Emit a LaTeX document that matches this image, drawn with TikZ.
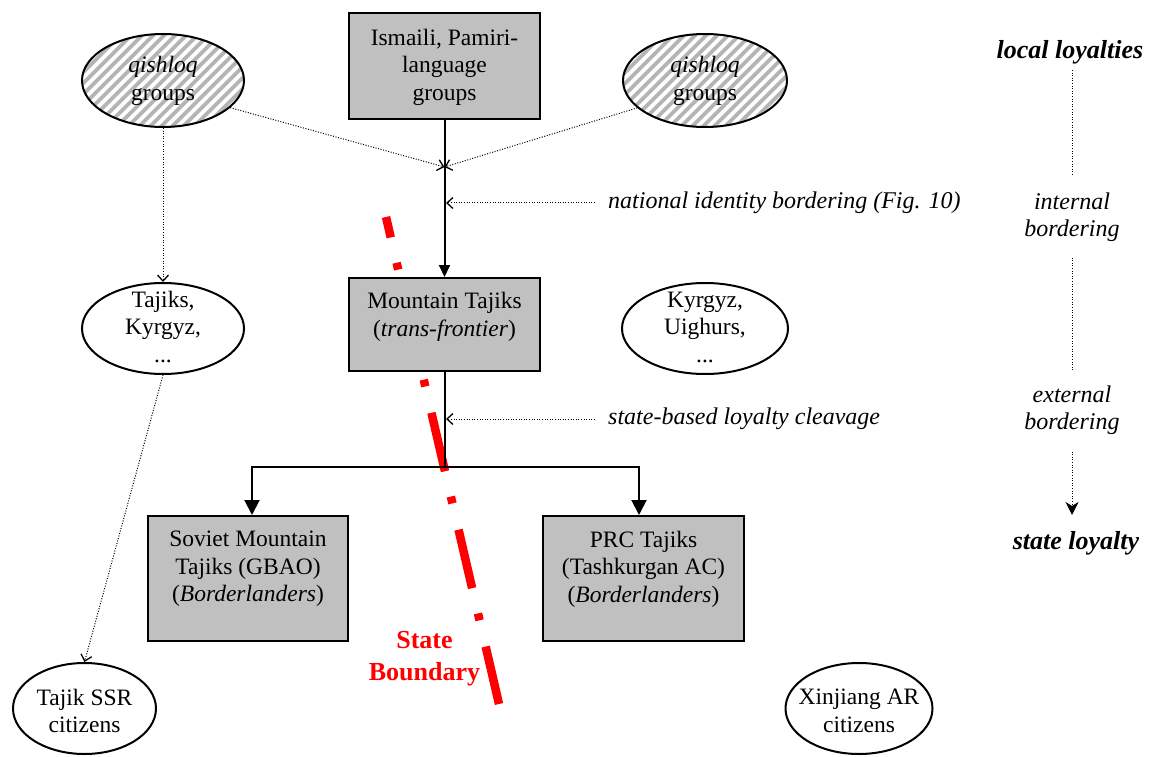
\documentclass[tikz,border=0pt]{standalone}
\usepackage{fontspec}
\setmainfont{Liberation Serif}
\usetikzlibrary{arrows.meta,shapes.geometric,calc}
\definecolor{boxgray}{HTML}{C0C0C0}
\definecolor{hatchgray}{HTML}{B4B4B4}
\definecolor{bordred}{HTML}{FF0000}
\begin{document}
\begin{tikzpicture}[x=1pt,y=-1pt,
  every node/.style={font=\fontsize{23.5}{27.5}\selectfont, align=center, inner sep=0pt},
  graybox/.style={draw, line width=2pt, fill=boxgray, rectangle},
  oval/.style={draw, line width=2pt, fill=white, ellipse},
  hatched/.style={oval, path picture={
      \foreach \k in {-231,-220,...,231}
        \draw[hatchgray, line width=3.8pt]
          ($(path picture bounding box.center)+(\k-100,100)$) --
          ($(path picture bounding box.center)+(\k+100,-100)$);}},
  dotline/.style={line width=1pt, dash pattern=on 1pt off 1.6pt},
  dotarrow/.style={dotline, -{Straight Barb[length=6pt,width=11pt,line width=1.3pt]}},
  solidarrow/.style={line width=2pt, -{Triangle[length=15pt,width=15pt]}},
  smallarrow/.style={line width=2pt, -{Triangle[length=12pt,width=11pt]}},
  note/.style={font=\fontsize{24}{27}\selectfont\itshape},
  level/.style={font=\fontsize{26}{30}\selectfont\bfseries\itshape},
]
\useasboundingbox (0,0) rectangle (1152,757);

% state boundary, drawn first so the boxes cover it
\coordinate (sbA) at (386,217);
\coordinate (sbB) at (499,704);
\draw[bordred, line width=8.5pt, dash pattern=on 60pt off 26pt on 7pt off 27pt, dash phase=39pt] (sbA) -- (sbB);
\node[text=bordred, font=\fontsize{26}{32}\selectfont\bfseries] (sbl) at (424.5,659) {State\\Boundary};

% top row
\node[hatched, minimum width=162, minimum height=93] (qL) at (163,80.5) {};
\node (qLt) at (163,81) {\textit{qishloq}\\groups};
\node[hatched, minimum width=164, minimum height=93] (qR) at (705,80.5) {};
\node (qRt) at (705,81) {\textit{qishloq}\\groups};
\node[graybox, minimum width=191, minimum height=106] (isb) at (444.5,66) {};
\node (isbt) at (444.5,67) {Ismaili, Pamiri-\\language\\groups};

% middle row
\node[oval, minimum width=162, minimum height=91] (taj) at (163,328.5) {};
\node (tajt) at (163,327) {Tajiks,\\Kyrgyz,\\...};
\node[oval, minimum width=166, minimum height=91] (kyr) at (705,328.5) {};
\node (kyrt) at (705,327) {Kyrgyz,\\Uighurs,\\...};
\node[graybox, minimum width=191, minimum height=93] (mt) at (444.5,324.5) {};
\node (mtt) at (444.5,317) {Mountain Tajiks\\(\textit{trans-frontier})};

% lower row
\node[graybox, minimum width=200, minimum height=125] (sov) at (248,578.5) {};
\node (sovt) at (248,569) {Soviet Mountain\\Tajiks (GBAO)\\(\textit{Borderlanders})};
\node[graybox, minimum width=201, minimum height=125] (prc) at (643.5,578.5) {};
\node (prct) at (643.5,569) {PRC Tajiks\\(Tashkurgan AC)\\(\textit{Borderlanders})};

% bottom row
\node[oval, minimum width=143, minimum height=91] (ssr) at (84.5,708.5) {};
\node (ssrt) at (84.5,711) {Tajik SSR\\citizens};
\node[oval, minimum width=147, minimum height=91] (xar) at (859,708.5) {};
\node (xart) at (859,711) {Xinjiang AR\\citizens};

% annotations
\node[note, anchor=west] (nib) at (608,203) {national identity bordering (Fig. 10)};
\node[note, anchor=west] (sbc) at (608,419) {state-based loyalty cleavage};

% connectors
\coordinate (jn) at (444.5,167);
\draw[dotarrow] (qL.-22) -- (jn);
\draw[dotarrow] (qR.-158) -- (jn);
\draw[smallarrow] (isb.south) -- (mt.north);
\draw[dotarrow, shorten <=13pt, shorten >=1.5pt] (nib.west) -- (nib.west -| isb.south);
\draw[dotarrow, shorten <=13pt, shorten >=1.5pt] (sbc.west) -- (sbc.west -| mt.south);
\draw[dotarrow] (qL.south) -- (taj.north);
\draw[dotarrow] (taj.south) -- (ssr.north);

\coordinate (split) at (444.5,467);
\draw[line width=2pt] (mt.south) -- (split);
\draw[solidarrow] (split) -| ($(sov.north)+(4,0)$);
\draw[solidarrow] (split) -| ($(prc.north)+(-4.5,0)$);

% loyalty scale
\node[level] (ll) at (1070,52) {local loyalties};
\node[note] (ib) at (1072,217) {internal\\bordering};
\node[note] (eb) at (1072,410) {external\\bordering};
\node[level] (sl) at (1076,543) {state loyalty};
\draw[dotline, shorten <=6pt, shorten >=17pt] (ib.north |- ll.south) -- (ib.north);
\draw[dotline, shorten <=16pt, shorten >=15pt] (ib.south) -- (eb.north);
\draw[dotline, shorten <=17pt, shorten >=16pt, -{Stealth[length=13pt,width=13pt,inset=4pt]}] (eb.south) -- (eb.south |- sl.north);
\end{tikzpicture}
\end{document}
